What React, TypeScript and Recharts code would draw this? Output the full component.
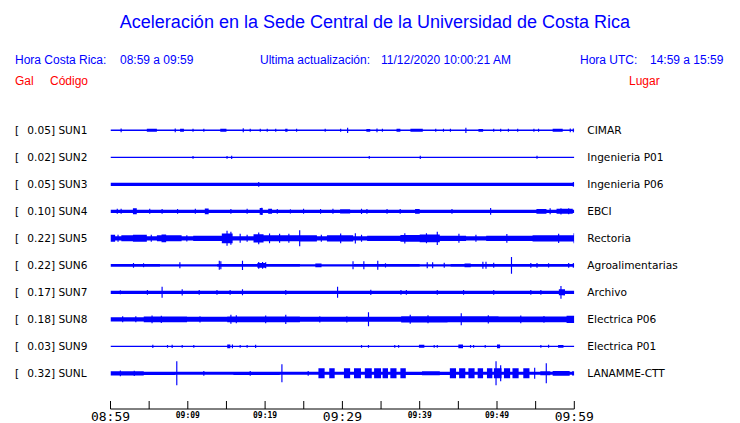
import { ComposedChart, Area, XAxis, YAxis } from "recharts";

// station rows, top to bottom
const codes = ["SUN1", "SUN2", "SUN3", "SUN4", "SUN5", "SUN6", "SUN7", "SUN8", "SUN9", "SUNL"];
const peakGal = [0.05, 0.02, 0.05, 0.1, 0.22, 0.22, 0.17, 0.18, 0.03, 0.32];
const places = [
  "CIMAR",
  "Ingenieria P01",
  "Ingenieria P06",
  "EBCI",
  "Rectoria",
  "Agroalimentarias",
  "Archivo",
  "Electrica P06",
  "Electrica P01",
  "LANAMME-CTT",
];

// minutes after 08:59
const tickMinutes = [0, 5, 10, 15, 20, 25, 30, 35, 40, 45, 50, 55, 60];
const tickLabels = ["08:59", "", "09:09", "", "09:19", "", "09:29", "", "09:39", "", "09:49", "", "09:59"];
const bigTicks = [0, 30, 60];

// noise floor of each trace (half width, display units)
const floorAmp = [0.75, 0.7, 1.7, 1.7, 2.2, 1.1, 1.7, 2.2, 0.7, 1.5];

// bursts: [start min, end min, half amplitude]   spikes: [min, half amplitude]
const sun1Bursts = [[4.7, 6.0, 1.5], [9.0, 9.5, 1.5], [14.2, 15.0, 1.5], [22.6, 22.9, 1.5], [33.1, 33.6, 1.3], [37.0, 37.5, 1.5], [38.8, 40.4, 1.5], [47.6, 48.2, 1.4], [57.2, 58.5, 1.5]];
const sun1Spikes = [[1.3, 1.8], [8.3, 1.8], [10.6, 1.5], [12, 1.5], [17.1, 2], [18, 1.5], [19.3, 1.5], [20.2, 1.5], [21.3, 1.5], [24, 1.5], [27.7, 1.5], [29.7, 1.5], [30.6, 2.7], [34.4, 1.8], [35.1, 1.5], [42, 1.5], [43, 1.5], [43.9, 1.5], [45.9, 2.7], [49.5, 1.5], [50.4, 1.5], [51.4, 1.5], [52.6, 1.5], [54.7, 1.5], [55.3, 1.5], [59.4, 1.8], [59.8, 1.8]];

const sun2Bursts: number[][] = [];
const sun2Spikes = [[10.6, 1.3], [15.0, 1.3], [15.6, 1.6], [33.4, 1.3], [40.0, 1.6], [55.1, 1.5]];

const sun3Bursts: number[][] = [];
const sun3Spikes = [[19.1, 2.4], [59.8, 2.4]];

const sun4Bursts = [[2.9, 3.4, 3], [12.2, 12.7, 2.8], [19.3, 19.7, 3.3], [20.4, 20.9, 2.5], [29.7, 31, 2.2], [39.4, 40, 2.4], [55.1, 56.4, 2.3], [57.7, 59.8, 2.5]];
const sun4Spikes = [[0.8, 2.5], [1.3, 2.5], [5.0, 2.5], [6.6, 2.3], [8.6, 2.3], [10.9, 2.5], [15.5, 2.3], [17.6, 2.5], [19.5, 3.6], [21.5, 2.3], [23.2, 2.1], [24.9, 2.5], [27.1, 2.3], [28.7, 2.5], [32.4, 2.7], [33.1, 2.3], [35.7, 2.3], [37.4, 2.3], [44.1, 2.3], [49.1, 3.4], [56.8, 3.0], [58.2, 3.2], [59.2, 3.0]];

const sun5Bursts = [[0, 0.6, 3.5], [1.4, 2.9, 3], [2.9, 4.7, 3.5], [6, 9.2, 3], [6.6, 7.2, 3.8], [10.7, 14.4, 2.7], [14.4, 15.8, 4.8], [18.5, 19.8, 4.2], [19.8, 24.5, 3], [24.5, 26.7, 3.1], [28, 31.4, 3.1], [33.2, 37.5, 2.7], [37.5, 40, 3.4], [40, 42.6, 3.8], [42.6, 46, 2.7], [48.6, 54.6, 2.6], [54.6, 60, 3.1]];
const sun5Spikes = [[0.9, 3.5], [5.2, 3.5], [9.8, 3.2], [15.0, 7.5], [15.5, 6.5], [16.7, 4.5], [17.6, 3.5], [19.1, 5.8], [20.5, 4.8], [21.8, 4.5], [23.0, 4.5], [24.4, 8], [27.2, 3.5], [29.7, 4.8], [31.6, 5.2], [32.4, 3.5], [38, 5.2], [40.8, 5], [42.2, 6.7], [45, 4.5], [47.2, 3.5], [51.2, 4.3], [57.9, 4.6], [59.9, 5]];

const sun6Bursts = [[0, 6.4, 1.4], [13.8, 24.5, 1.4], [19.0, 20.0, 2.4], [26.5, 27.3, 1.8], [31.5, 40, 1.4], [44, 60, 1.4], [45.8, 46.6, 1.8]];
const sun6Spikes = [[2.9, 2.3], [4.2, 2], [8.9, 3], [14, 4.5], [14.2, 4], [17, 4.6], [19.1, 3.3], [19.6, 3.3], [20, 3], [31.3, 4], [32.7, 4], [34.5, 4.5], [35.5, 2.2], [40.9, 3], [41.6, 3], [43.1, 2.5], [48.1, 3.5], [48.5, 3.5], [49.5, 2.5], [51.8, 8.3], [54.3, 2.4], [55.1, 2.4], [56.6, 2.1], [59.2, 2.4], [59.8, 2.4]];

const sun7Bursts = [[58.0, 58.8, 3]];
const sun7Spikes = [[1.2, 2], [4.7, 2.3], [6.6, 5.5], [9.2, 3.2], [11.4, 2.3], [13.7, 2.3], [15.4, 2.3], [17, 3], [22.6, 2.3], [29.3, 5.5], [33.6, 2.6], [37.5, 2.3], [38.2, 2.3], [42.2, 2.3], [45.6, 2.3], [49.5, 2.3], [54.3, 2.3], [55.6, 2.3], [58.2, 6.3], [58.6, 3.2]];

const sun8Bursts = [[4.3, 9.9, 2.9], [9.9, 15.1, 2.5], [15.1, 24.5, 2.8], [24.5, 37.6, 2.5], [37.6, 43.6, 3.2], [43.6, 50.2, 3], [50.2, 59, 2.8], [59, 60, 3.6]];
const sun8Spikes = [[1.5, 3], [3.2, 3], [5.3, 3.8], [6.5, 3.6], [11.5, 3.2], [15.5, 4.5], [16.2, 4], [20, 3.8], [22.6, 4.6], [27, 3.2], [30.5, 3.2], [33.3, 7], [38.7, 4.5], [41, 4], [45.3, 6], [48.8, 4.2], [53, 3.8], [56, 3.4]];

const sun9Bursts = [[15.1, 15.5, 1.8], [39.9, 40.6, 1.5], [45, 45.6, 1.9], [50, 50.4, 1.9], [57.9, 58.6, 1.3]];
const sun9Spikes = [[5.4, 1.7], [7.3, 1.3], [7.9, 1.6], [9.2, 1.3], [10.7, 1.3], [15.7, 1.8], [16.7, 1.3], [17.6, 1.3], [18.7, 1.6], [32.4, 1.3], [33.3, 1.4], [36.7, 1.3], [37.2, 1.3], [41.8, 1.3], [42.2, 1.3], [46.5, 1.3], [46.9, 1.3], [48.4, 1.3], [55.6, 1.3], [56.6, 1.5]];

const sunLBursts = [[0, 4.3, 2.1], [4.3, 8.4, 1.7], [15.9, 21.9, 1.7], [26.9, 27.7, 5], [28.3, 29.0, 5], [30.2, 31.0, 5], [31.5, 32.4, 5], [32.9, 33.8, 5], [34.1, 35.0, 5], [35.2, 35.9, 5], [36.2, 37.0, 5], [37.5, 38.2, 5], [38.2, 43.9, 1.7], [40.3, 42.6, 2], [43.9, 44.7, 5], [45.1, 45.9, 5], [46.3, 47.1, 5], [47.5, 48.2, 5], [48.7, 49.4, 5], [49.6, 50.6, 5], [50.9, 51.7, 5], [52.0, 52.8, 5], [53.4, 54.2, 5], [55.6, 56.9, 2], [57.2, 59.4, 2.3], [59.7, 60, 2.2]];
const sunLSpikes = [[1.2, 2.8], [3.0, 2.6], [8.5, 12], [12, 2.3], [18, 2.3], [22.1, 9], [25.5, 2.3], [49.8, 12], [50.4, 8], [54.8, 5.5], [56.3, 10]];

const traceBursts = [sun1Bursts, sun2Bursts, sun3Bursts, sun4Bursts, sun5Bursts, sun6Bursts, sun7Bursts, sun8Bursts, sun9Bursts, sunLBursts];
const traceSpikes = [sun1Spikes, sun2Spikes, sun3Spikes, sun4Spikes, sun5Spikes, sun6Spikes, sun7Spikes, sun8Spikes, sun9Spikes, sunLSpikes];

const ROW_UNITS = 27; // display units between two rows
const SPIKE_W = 0.15; // minutes
const BLUE = "#0000ff";
const RED = "#ff0000";

// step envelope of one trace
function buildBand(row: number) {
  const events = [
    ...traceBursts[row],
    ...traceSpikes[row].map(([t, a]) => [t, Math.min(t + SPIKE_W, 60), a]),
  ];
  const cuts = Array.from(new Set([0, 60, ...events.flatMap((e) => [e[0], e[1]])])).sort((a, b) => a - b);
  return cuts.map((t) => {
    let a = floorAmp[row];
    for (const [s, e, amp] of events) if (t >= s && t < e) a = Math.max(a, amp);
    return { t, band: [row - a / ROW_UNITS, row + a / ROW_UNITS] };
  });
}

const bands = codes.map((_, i) => buildBand(i));

function RowTick({ y, payload }: any) {
  const i = payload.value;
  return (
    <g fontFamily="DejaVu Sans" fontSize={10.6} fill="#000">
      <text x={15} y={y + 4}>[</text>
      <text x={27.3} y={y + 4}>{`${peakGal[i].toFixed(2)}] ${codes[i]}`}</text>
      <text x={587.3} y={y + 4}>{places[i]}</text>
    </g>
  );
}

function TimeTick({ x, y, payload }: any) {
  const idx = tickMinutes.indexOf(payload.value);
  const label = tickLabels[idx];
  const big = bigTicks.includes(payload.value);
  return (
    <g>
      <line x1={x} x2={x} y1={y - 8} y2={y} stroke="#000" />
      {label && (
        <text
          x={x}
          y={big ? y + 11.5 : y + 9}
          textAnchor="middle"
          fontFamily="DejaVu Sans Mono"
          fontSize={big ? 13 : 8}
          fontWeight={big ? "normal" : "bold"}
          fill="#000"
        >
          {label}
        </text>
      )}
    </g>
  );
}

export default function App() {
  return (
    <div style={{ position: "fixed", left: 0, top: 0, width: 740, height: 423, background: "#fff" }}>
      <svg width={740} height={100} style={{ position: "absolute", left: 0, top: 0 }} fontFamily="Liberation Sans, Arial">
        <text x={375} y={27.5} textAnchor="middle" fontSize={18} fill={BLUE}>
          Aceleración en la Sede Central de la Universidad de Costa Rica
        </text>
        <g fontSize={12} fill={BLUE}>
          <text x={15} y={64}>Hora Costa Rica:</text>
          <text x={120} y={64}>08:59 a 09:59</text>
          <text x={260} y={64}>Ultima actualización:</text>
          <text x={381} y={64}>11/12/2020 10:00:21 AM</text>
          <text x={580} y={64}>Hora UTC:</text>
          <text x={650} y={64}>14:59 a 15:59</text>
        </g>
        <g fontSize={12} fill={RED}>
          <text x={15} y={85}>Gal</text>
          <text x={50} y={85}>Código</text>
          <text x={629} y={85}>Lugar</text>
        </g>
      </svg>
      <ComposedChart
        width={740}
        height={423}
        margin={{ top: 116.86, right: 165.7, bottom: 0, left: 0 }}
        style={{ position: "absolute", left: 0, top: 0 }}
      >
        <XAxis
          type="number"
          dataKey="t"
          domain={[0, 60]}
          ticks={tickMinutes}
          interval={0}
          height={14}
          tickSize={0}
          tickMargin={0}
          tickLine={false}
          axisLine={{ stroke: "#000" }}
          tick={<TimeTick />}
          allowDataOverflow
        />
        <YAxis
          type="number"
          domain={[-0.5, 10.32]}
          reversed
          ticks={codes.map((_, i) => i)}
          interval={0}
          width={110.5}
          axisLine={false}
          tickLine={false}
          tick={<RowTick />}
          allowDataOverflow
        />
        {bands.map((d, i) => (
          <Area
            key={codes[i]}
            data={d}
            dataKey="band"
            type="stepAfter"
            stroke="none"
            fill={BLUE}
            fillOpacity={1}
            isAnimationActive={false}
          />
        ))}
      </ComposedChart>
    </div>
  );
}
